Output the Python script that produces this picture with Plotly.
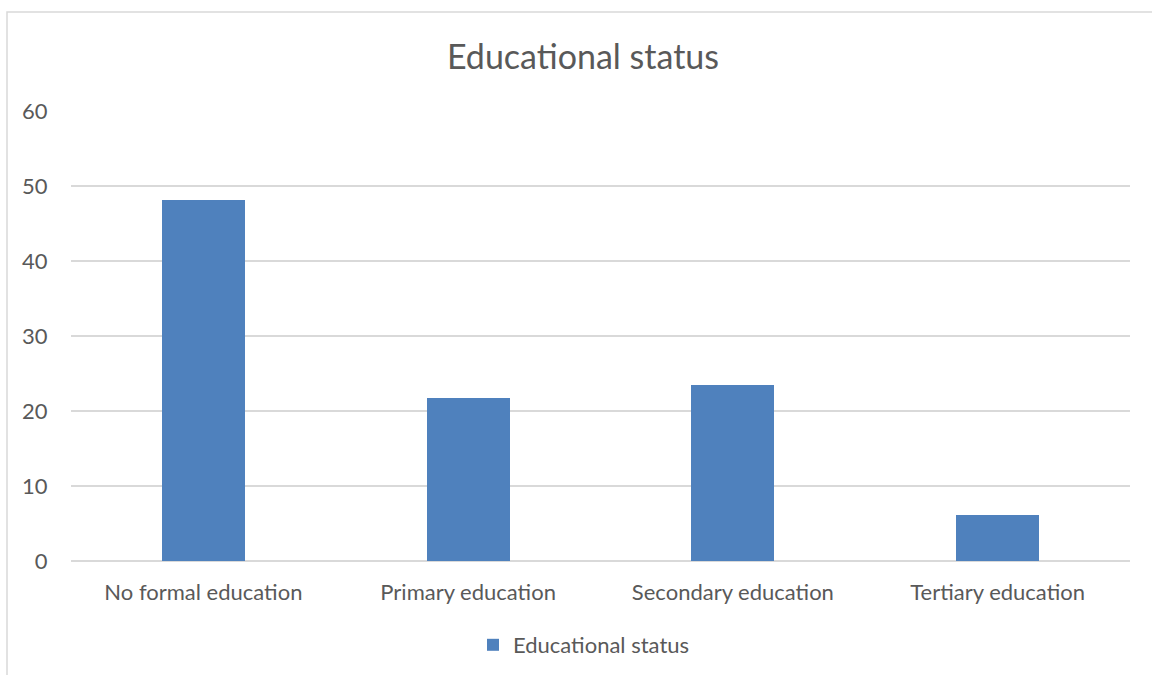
import plotly.graph_objects as go

categories = ["No formal education", "Primary education", "Secondary education", "Tertiary education"]
values = [48.2, 21.7, 23.5, 6.2]
series_name = "Educational status"
title_text = "Educational status"
y_ticks = [0, 10, 20, 30, 40, 50, 60]

W, H = 1152, 675
L, R, T, B = 71, 22, 111, 114
ph = H - T - B
pw = W - L - R

fig = go.Figure()
fig.add_trace(go.Bar(
    x=categories, y=values, name=series_name,
    marker=dict(color="#4f81bd", line=dict(width=0)),
    width=0.313,
))

font_family = "Lato, Open Sans, sans-serif"
fs = 22
fig.update_layout(
    width=W, height=H,
    margin=dict(l=L, r=R, t=T, b=B, autoexpand=False),
    paper_bgcolor="white", plot_bgcolor="white",
    font=dict(family=font_family, color="#595959", size=fs),
    title=dict(text=title_text, x=583 / W, xanchor="center", y=1 - 57 / H, yanchor="middle",
               font=dict(size=34, color="#595959", family=font_family)),
    showlegend=True,
    legend=dict(orientation="h", x=(473 - L) / pw, xanchor="left",
                y=(H - B - 645) / ph, yanchor="middle",
                font=dict(size=fs, color="#595959"), itemwidth=30),
    bargap=0,
)
fig.update_xaxes(showgrid=False, showline=False, ticks="outside", ticklen=12, tickcolor="rgba(0,0,0,0)",
                 tickfont=dict(size=fs, color="#595959"), fixedrange=True)
fig.update_yaxes(range=[0, 60], tickvals=y_ticks, showgrid=True, gridcolor="#d9d9d9", gridwidth=1.5,
                 zeroline=True, zerolinecolor="#d9d9d9", zerolinewidth=1.5, showline=False,
                 ticks="outside", ticklen=18, tickcolor="rgba(0,0,0,0)",
                 tickfont=dict(size=fs, color="#595959"))

# chart frame
fig.add_shape(type="rect", xref="paper", yref="paper",
              x0=(7 - L) / pw, x1=(W + 20 - L) / pw,
              y0=(H - B - (H + 20)) / ph, y1=(H - B - 12) / ph,
              line=dict(color="#d9d9d9", width=1.5), fillcolor="rgba(0,0,0,0)", layer="below")

fig.write_html("out.html")
